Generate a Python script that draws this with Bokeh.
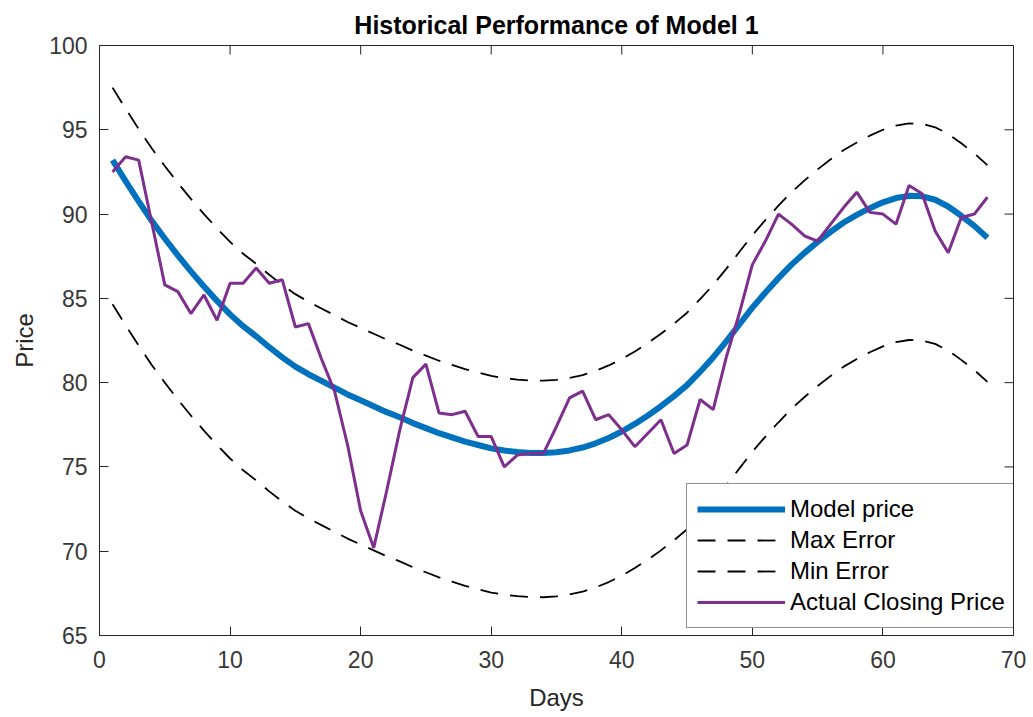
import math

from bokeh.plotting import figure
from bokeh.models import Range1d, FixedTicker, Legend, LegendItem
from bokeh.embed import file_html
from bokeh.resources import INLINE

# Trading days
days = list(range(1, 69))

# Fitted model price per day
model_price = [
    93.2, 91.95, 90.75, 89.6, 88.55, 87.55, 86.6, 85.7, 84.85, 84.05,
    83.35, 82.75, 82.1, 81.5, 80.95, 80.5, 80.1, 79.7, 79.3, 78.95,
    78.6, 78.25, 77.95, 77.6, 77.3, 77.0, 76.75, 76.5, 76.3, 76.1,
    75.97, 75.88, 75.83, 75.82, 75.87, 75.98, 76.15, 76.4, 76.72, 77.1,
    77.55, 78.05, 78.6, 79.2, 79.85, 80.65, 81.5, 82.45, 83.45, 84.45,
    85.35, 86.2, 87.0, 87.7, 88.35, 88.95, 89.5, 89.95, 90.35, 90.7,
    90.95, 91.08, 91.05, 90.85, 90.45, 89.9, 89.3, 88.6,
]

# Upper error band
max_error = [
    97.5, 96.25, 95.05, 93.9, 92.85, 91.85, 90.9, 90.0, 89.15, 88.35,
    87.65, 87.05, 86.4, 85.8, 85.25, 84.8, 84.4, 84.0, 83.6, 83.25,
    82.9, 82.55, 82.25, 81.9, 81.6, 81.3, 81.05, 80.8, 80.6, 80.4,
    80.27, 80.18, 80.13, 80.12, 80.17, 80.28, 80.45, 80.7, 81.02, 81.4,
    81.85, 82.35, 82.9, 83.5, 84.15, 84.95, 85.8, 86.75, 87.75, 88.75,
    89.65, 90.5, 91.3, 92.0, 92.65, 93.25, 93.8, 94.25, 94.65, 95.0,
    95.25, 95.38, 95.35, 95.15, 94.75, 94.2, 93.6, 92.9,
]

# Lower error band
min_error = [
    84.65, 83.4, 82.2, 81.05, 80.0, 79.0, 78.05, 77.15, 76.3, 75.5,
    74.8, 74.2, 73.55, 72.95, 72.4, 71.95, 71.55, 71.15, 70.75, 70.4,
    70.05, 69.7, 69.4, 69.05, 68.75, 68.45, 68.2, 67.95, 67.75, 67.55,
    67.42, 67.33, 67.28, 67.27, 67.32, 67.43, 67.6, 67.85, 68.17, 68.55,
    69.0, 69.5, 70.05, 70.65, 71.3, 72.1, 72.95, 73.9, 74.9, 75.9,
    76.8, 77.65, 78.45, 79.15, 79.8, 80.4, 80.95, 81.4, 81.8, 82.15,
    82.4, 82.53, 82.5, 82.3, 81.9, 81.35, 80.75, 80.05,
]

# Actual closing price per day
actual_close = [
    92.5, 93.4, 93.2, 89.5, 85.8, 85.4, 84.1, 85.2, 83.7, 85.9,
    85.9, 86.8, 85.9, 86.1, 83.3, 83.5, 81.4, 79.5, 76.3, 72.4,
    70.2, 73.6, 77.2, 80.3, 81.1, 78.2, 78.1, 78.3, 76.8, 76.8,
    75.0, 75.7, 75.8, 75.8, 77.4, 79.1, 79.5, 77.8, 78.1, 77.2,
    76.2, 77.0, 77.8, 75.8, 76.3, 79.0, 78.4, 81.5, 84.1, 87.0,
    88.4, 90.0, 89.4, 88.7, 88.4, 89.4, 90.4, 91.3, 90.1, 90.0,
    89.4, 91.7, 91.2, 89.0, 87.7, 89.8, 90.0, 91.0,
]

x_ticks = [0, 10, 20, 30, 40, 50, 60, 70]
y_ticks = [65, 70, 75, 80, 85, 90, 95, 100]
X_MIN, X_MAX = 0, 70
Y_MIN, Y_MAX = 65, 100

FONT = "Liberation Sans"
AXIS_COLOR = "#262626"
TICK_LABEL_COLOR = "#383838"
TICK_LEN = 9
DASH = "18 12"

p = figure(
    width=1033, height=717,
    x_range=Range1d(X_MIN, X_MAX), y_range=Range1d(Y_MIN, Y_MAX),
    output_backend="svg", toolbar_location=None,
    min_border_left=99, min_border_right=20,
    min_border_top=45, min_border_bottom=82,
    title="Historical Performance of Model 1",
)
p.title.align = "center"
p.title.text_font = FONT
p.title.text_font_size = "25px"
p.title.text_font_style = "bold"
p.title.text_color = "#000000"
p.title.standoff = 14

p.grid.visible = False
p.outline_line_color = AXIS_COLOR
p.outline_line_width = 1
p.background_fill_color = "white"
p.border_fill_color = "white"

for ax, ticks in ((p.xaxis[0], x_ticks), (p.yaxis[0], y_ticks)):
    ax.ticker = FixedTicker(ticks=ticks)
    ax.major_tick_in = TICK_LEN
    ax.major_tick_out = 0
    ax.minor_tick_in = 0
    ax.minor_tick_out = 0
    ax.major_tick_line_color = AXIS_COLOR
    ax.axis_line_color = AXIS_COLOR
    ax.major_label_text_font = FONT
    ax.major_label_text_font_size = "23px"
    ax.major_label_text_color = TICK_LABEL_COLOR
    ax.axis_label_text_font = FONT
    ax.axis_label_text_font_size = "24px"
    ax.axis_label_text_font_style = "normal"
    ax.axis_label_text_color = AXIS_COLOR

p.xaxis.axis_label = "Days"
p.yaxis.axis_label = "Price"
p.xaxis.major_label_standoff = 15
p.yaxis.major_label_standoff = 12
p.xaxis.axis_label_standoff = 13
p.yaxis.axis_label_standoff = 8

# Inward ticks on the top and right edges of the box
p.ray(x=x_ticks, y=[Y_MAX] * len(x_ticks), length=TICK_LEN, length_units="screen",
      angle=-math.pi / 2, line_color=AXIS_COLOR, line_width=1)
p.ray(x=[X_MAX] * len(y_ticks), y=y_ticks, length=TICK_LEN, length_units="screen",
      angle=math.pi, line_color=AXIS_COLOR, line_width=1)

r_model = p.line(days, model_price, line_width=6, line_color="#0072BD")
r_max = p.line(days, max_error, line_width=1.8, line_color="#000000", line_dash=DASH)
r_min = p.line(days, min_error, line_width=1.8, line_color="#000000", line_dash=DASH)
r_actual = p.line(days, actual_close, line_width=3, line_color="#7E2F8E")

legend = Legend(
    items=[
        LegendItem(label="Model price", renderers=[r_model]),
        LegendItem(label="Max Error", renderers=[r_max]),
        LegendItem(label="Min Error", renderers=[r_min]),
        LegendItem(label="Actual Closing Price", renderers=[r_actual]),
    ],
    location=(587, 7),
    orientation="vertical",
    label_text_font=FONT,
    label_text_font_size="24px",
    label_text_color="#000000",
    glyph_width=88,
    glyph_height=30,
    label_height=30,
    label_standoff=5,
    spacing=1,
    padding=10,
    margin=0,
    border_line_color=AXIS_COLOR,
    border_line_width=1,
    background_fill_color="white",
    background_fill_alpha=1.0,
)
p.add_layout(legend, "center")

open("out.html", "w").write(file_html(p, INLINE))
